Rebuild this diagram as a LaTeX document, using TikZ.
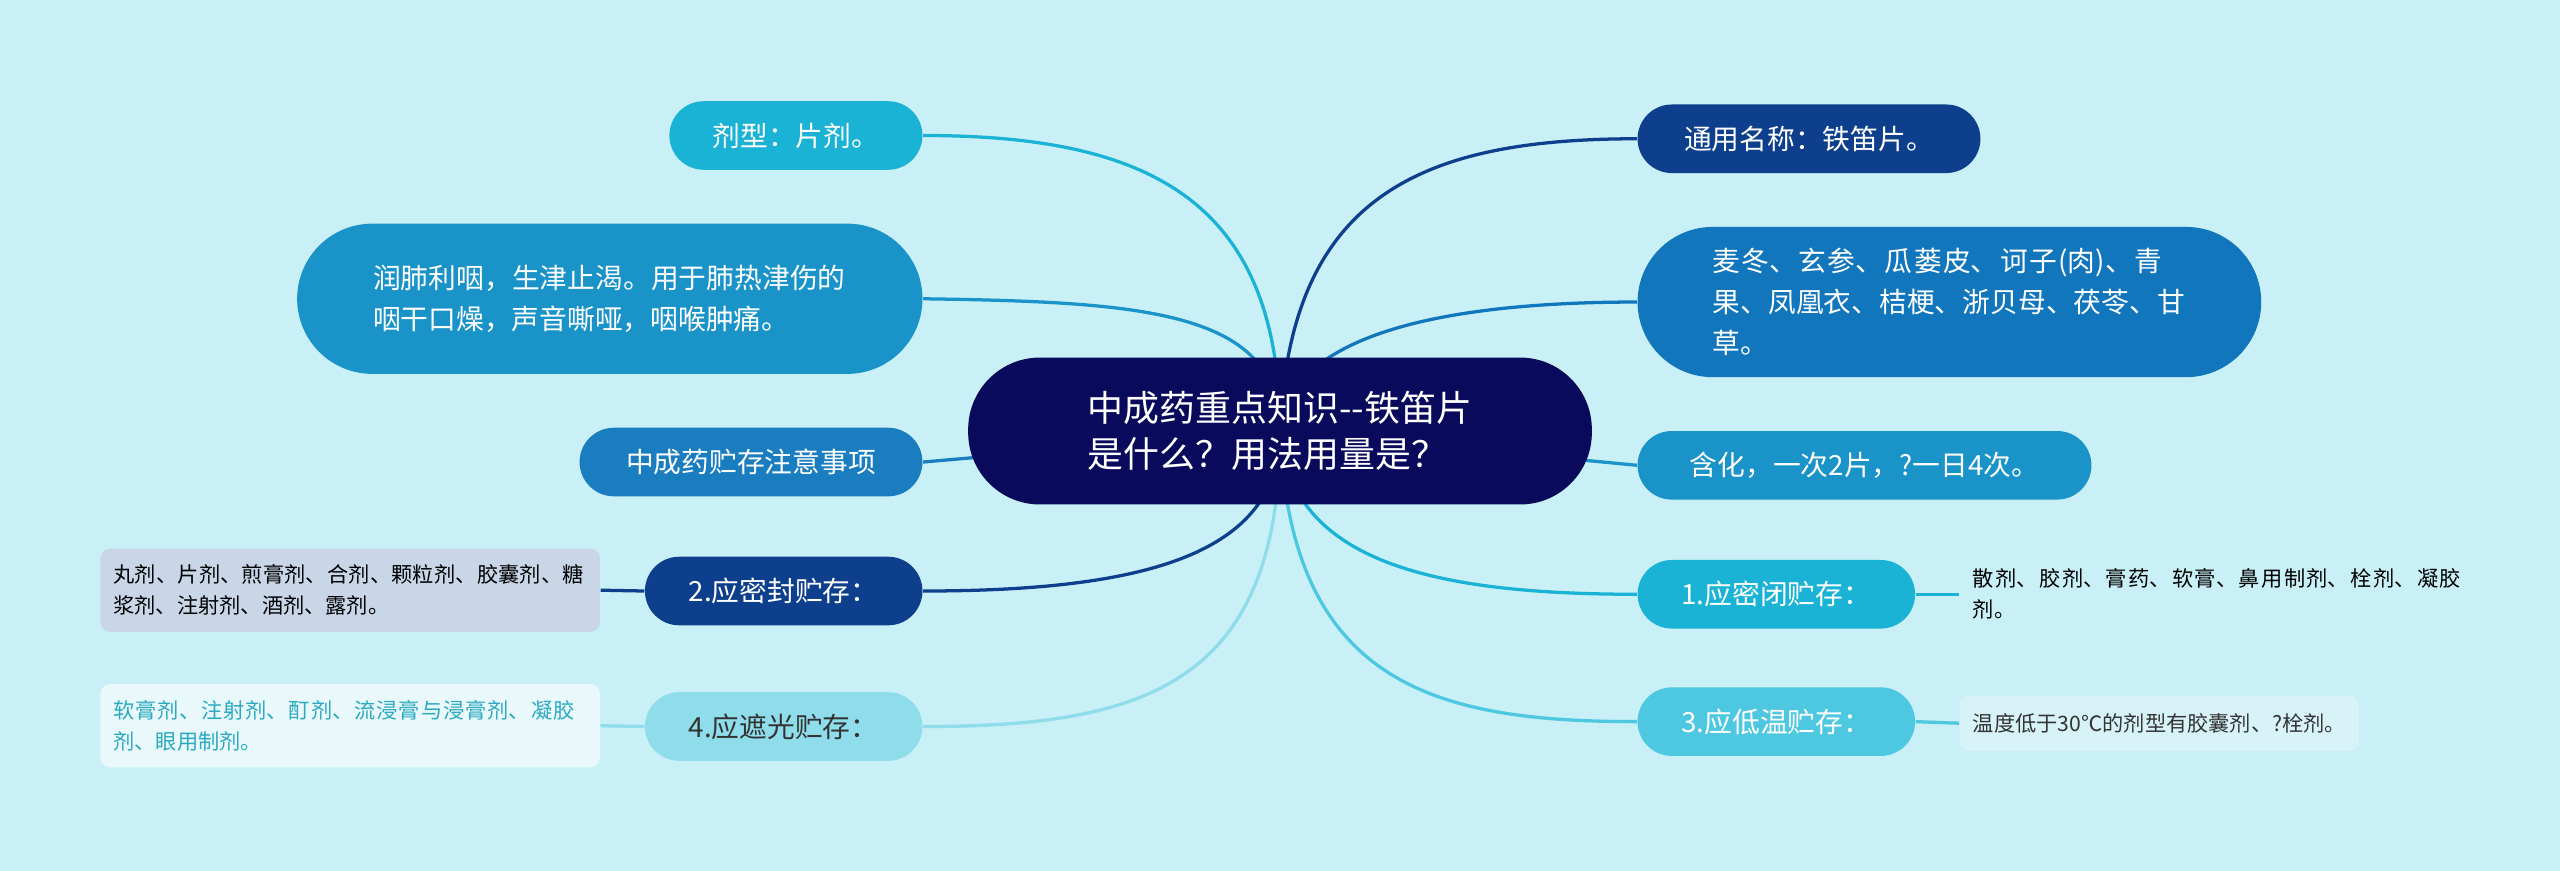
\documentclass[tikz,border=0pt]{standalone}
\usepackage{fontspec}
\setmainfont{Noto Sans CJK SC}
\XeTeXlinebreaklocale "zh"
\XeTeXlinebreakskip=0pt plus 1pt
\usetikzlibrary{backgrounds}
\definecolor{bg}{HTML}{C8F0F6}
\definecolor{navy}{HTML}{0A0A5C}
\definecolor{dblue}{HTML}{0D3F8C}
\definecolor{mblue}{HTML}{1176BC}
\definecolor{sblue}{HTML}{1A7DC0}
\definecolor{lblue}{HTML}{1A93C8}
\definecolor{cyan1}{HTML}{1AB3D6}
\definecolor{cyan2}{HTML}{4DC8E0}
\definecolor{pale}{HTML}{8FDCEB}
\definecolor{grayb}{HTML}{C9D6E8}
\definecolor{whiteb}{HTML}{E8F8FB}
\definecolor{lightb}{HTML}{D8F3F8}
\definecolor{teal}{HTML}{2AA9C0}
\tikzset{
 pill/.style={rounded corners=10.5pt,minimum height=21pt,text=white,font=\fontsize{8.5}{11}\selectfont,inner xsep=8pt},
 big/.style={rounded corners=23pt,minimum height=46pt,text=white,font=\fontsize{8.5}{12.5}\selectfont,align=left,inner xsep=12pt},
 leafbase/.style={rounded corners=3pt,font=\fontsize{6.5}{9.5}\selectfont,align=left,inner sep=4pt},
 leaf/.style={leafbase,text width=145pt},
 conn/.style={line width=1pt}
}
\begin{document}
\begin{tikzpicture}[x=0.5pt,y=-0.5pt]
\useasboundingbox (0,0) rectangle (1568,533);
\node[fill=navy,rounded corners=22pt,minimum width=191pt,minimum height=45pt,text=white,font=\fontsize{11}{14}\selectfont,align=left] (c) at (784,264) {中成药重点知识-{}-铁笛片\\是什么？用法用量是？};
% left
\node[pill,fill=cyan1,minimum width=77.5pt] (a1) at (487.5,83) {剂型：片剂。};
\node[big,fill=lblue,minimum width=191.5pt,text width=145pt] (a2) at (373.5,183) {润肺利咽，生津止渴。用于肺热津伤的咽干口燥，声音嘶哑，咽喉肿痛。};
\node[pill,fill=sblue,minimum width=105pt] (a3) at (460,283) {中成药贮存注意事项};
\node[pill,fill=dblue,minimum width=85pt] (a4) at (480,362) {2.应密封贮存：};
\node[pill,fill=pale,text=black!80,minimum width=85pt] (a5) at (480,445) {4.应遮光贮存：};
\node[leaf,fill=grayb,text=black,minimum height=25.5pt] (l4) at (214.5,361.5) {丸剂、片剂、煎膏剂、合剂、颗粒剂、胶囊剂、糖浆剂、注射剂、酒剂、露剂。};
\node[leaf,fill=whiteb,text=teal,minimum height=25.5pt] (l5) at (214.5,444.5) {软膏剂、注射剂、酊剂、流浸膏与浸膏剂、凝胶剂、眼用制剂。};
% right
\node[pill,fill=dblue,minimum width=105pt] (b1) at (1108,85) {通用名称：铁笛片。};
\node[big,fill=mblue,minimum width=191pt,text width=145pt] (b2) at (1194,185) {麦冬、玄参、瓜蒌皮、诃子(肉)、青果、凤凰衣、桔梗、浙贝母、茯苓、甘草。};
\node[pill,fill=lblue,minimum width=139pt] (b3) at (1142,285) {含化，一次2片，?一日4次。};
\node[pill,fill=cyan1,minimum width=85pt] (b4) at (1088,364) {1.应密闭贮存：};
\node[pill,fill=cyan2,minimum width=85pt] (b5) at (1088,442) {3.应低温贮存：};
\node[leaf,text=black,anchor=west,text width=155pt] (r4) at (1200,364) {散剂、胶剂、膏药、软膏、鼻用制剂、栓剂、凝胶剂。};
\node[leafbase,fill=lightb,text=black!80,anchor=west,minimum height=17pt] (r5) at (1200,443) {温度低于30℃的剂型有胶囊剂、?栓剂。};
\begin{scope}[on background layer]
\fill[bg] (-5,-5) rectangle (1575,540);
\draw[conn,cyan1] (c.center) .. controls (784,120) and (700,83) .. (a1.east);
\draw[conn,lblue] (c.center) .. controls (784,190) and (700,185) .. (a2.east);
\draw[conn,sblue] (c.center) -- (a3.east);
\draw[conn,dblue] (c.center) .. controls (784,340) and (700,362) .. (a4.east);
\draw[conn,pale] (c.center) .. controls (784,420) and (700,445) .. (a5.east);
\draw[conn,dblue] (a4.west) -- (l4.east);
\draw[conn,pale] (a5.west) -- (l5.east);
\draw[conn,dblue] (c.center) .. controls (790,120) and (870,85) .. (b1.west);
\draw[conn,mblue] (c.center) .. controls (790,200) and (900,185) .. (b2.west);
\draw[conn,lblue] (c.center) -- (b3.west);
\draw[conn,cyan1] (c.center) .. controls (790,345) and (880,364) .. (b4.west);
\draw[conn,cyan2] (c.center) .. controls (790,420) and (880,442) .. (b5.west);
\draw[conn,cyan1] (b4.east) -- (r4.west);
\draw[conn,cyan2] (b5.east) -- (r5.west);
\end{scope}
\end{tikzpicture}
\end{document}
